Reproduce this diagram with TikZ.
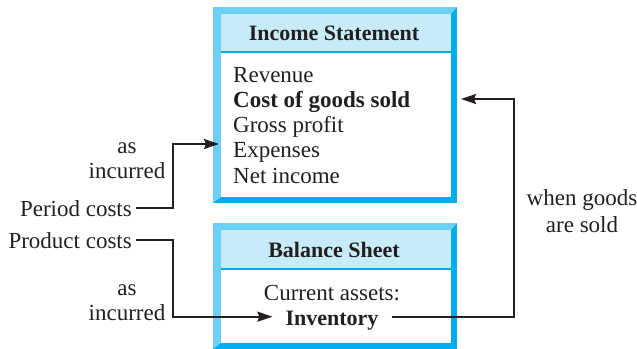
\documentclass[tikz,border=0pt]{standalone}
\usepackage{fontspec}
\setmainfont{Liberation Serif}
\usetikzlibrary{calc, arrows.meta, positioning}
\definecolor{bevelLight}{HTML}{6DCFF6}
\definecolor{bevelDark}{HTML}{00AEEF}
\definecolor{headFill}{HTML}{C8EBFA}
\definecolor{inkLine}{HTML}{231F20}

\tikzset{
    txt/.style={inner sep=0pt, anchor=base, text=inkLine, font=\fontsize{23}{25}\selectfont},
    hd/.style={txt, font=\fontsize{22}{25}\selectfont\bfseries},
    flow/.style={line width=1.9pt, color=inkLine},
    tip/.style={flow, -{Stealth[length=15pt,width=10pt,inset=2pt]}}
}

% outer left, top, right, bottom, header line
\newcommand{\bevelbox}[5]{
    \fill[bevelDark] (#1,#2) rectangle (#3,#4);
    \fill[bevelLight] (#1,#2) -- (#3,#2) -- (#3-6,#2+7) -- (#1+8,#2+7) -- (#1+8,#4-6) -- (#1,#4) -- cycle;
    \fill[white] (#1+8,#2+7) rectangle (#3-6,#4-6);
    \fill[headFill] (#1+8,#2+7) rectangle (#3-6,#5);
    \draw[bevelDark, line width=1.2pt] (#1+8,#5) -- (#3-6,#5);
}

\begin{document}
\begin{tikzpicture}[x=1pt, y=-1pt]
        \useasboundingbox (0,0) rectangle (637,348);
        \bevelbox{213}{7}{457}{203}{52}
        \bevelbox{213}{223}{457}{349}{269}

        \node [hd] (isHead) at (334,40) {Income Statement};
        \foreach \n/\y/\t in
        {rev/82/Revenue,
            cogs/107/{\bfseries Cost of goods sold},
            gp/132/Gross profit,
            exp/157/Expenses,
            ni/183/Net income
        }
        {
            \node [txt, anchor=base west] (\n) at (233,\y) {\t};
        };

        \node [hd] (bsHead) at (334,257) {Balance Sheet};
        \node [txt] (ca) at (332,300) {Current assets:};
        \node [hd, inner xsep=13pt] (inv) at (332,325) {Inventory};

        \node [txt] (asTop) at (127,153) {as};
        \node [txt] (incTop) at (127,178) {incurred};
        \node [txt, anchor=base east, inner xsep=4pt] (pc) at (136,216) {Period costs};
        \node [txt, anchor=base east, inner xsep=4pt] (pdc) at (136,248) {Product costs};
        \node [txt] (asBot) at (127,295) {as};
        \node [txt] (incBot) at (127,320) {incurred};
        \node [txt] (wg) at (582,205) {when goods};
        \node [txt] (sold) at (582,232) {are sold};

        \coordinate (bendL) at (173,0);
        \coordinate (bendR) at (514,0);
        \coordinate (expIn) at (219,144);
        \coordinate (cogsIn) at (461,99);
        \coordinate (invIn) at ([yshift=3.5pt]inv.west);
        \coordinate (invOut) at ([yshift=3.5pt]inv.east);

        \draw [tip] (pc.east) -| (bendL |- expIn) -- (expIn);
        \draw [tip] (pdc.east) -| (bendL |- invIn) -- (invIn);
        \draw [tip] (invOut) -| (bendR |- cogsIn) -- (cogsIn);
\end{tikzpicture}
\end{document}
